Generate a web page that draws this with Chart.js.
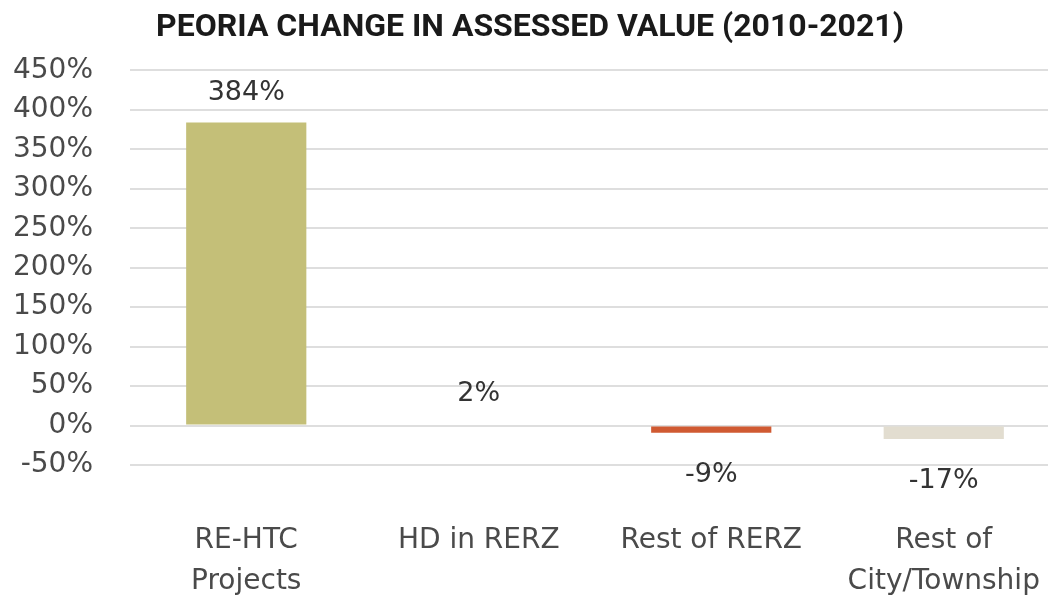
<!DOCTYPE html>
<html>
<head>
<meta charset="utf-8">
<script src="https://cdn.jsdelivr.net/npm/chart.js@4/dist/chart.umd.min.js"></script>
<style>
  html, body { margin: 0; padding: 0; background: #fff; overflow: hidden; }
</style>
</head>
<body>
<canvas id="chart" width="1060" height="597"></canvas>
<script>
// values
const categories = [['RE-HTC', 'Projects'], ['HD in RERZ'], ['Rest of RERZ'], ['Rest of', 'City/Township']];
const changePct = [384, 2, -9, -17];
const barColors = ['#c4bf78', 'rgba(255,255,255,0)', '#d05a32', '#e2ddd0'];
const yTicks = [-50, 0, 50, 100, 150, 200, 250, 300, 350, 400, 450];

// draw the value labels above / below each bar
const valueLabels = {
    id: 'valueLabels',
    afterDatasetsDraw(chart) {
        const ctx = chart.ctx;
        const meta = chart.getDatasetMeta(0);
        ctx.save();
        ctx.font = '27px "DejaVu Sans"';
        ctx.fillStyle = '#333';
        ctx.textAlign = 'center';
        ctx.textBaseline = 'middle';
        meta.data.forEach((bar, i) => {
            const v = changePct[i];
            const y = v >= 0 ? bar.y - 30 : bar.y + 42;
            ctx.fillText(v + '%', bar.x, y);
        });
        ctx.restore();
    }
};

new Chart(document.getElementById('chart'), {
    type: 'bar',
    data: {
        labels: categories,
        datasets: [{
            data: changePct,
            backgroundColor: barColors,
            barPercentage: 0.517,
            categoryPercentage: 1
        }]
    },
    options: {
        responsive: false,
        animation: false,
        layout: { padding: 0 },
        plugins: {
            legend: { display: false },
            tooltip: { enabled: false },
            title: {
                display: true,
                text: 'PEORIA CHANGE IN ASSESSED VALUE (2010-2021)',
                color: '#1a1a1a',
                font: { family: 'Roboto', size: 32, weight: 'bold' },
                padding: { top: 9, bottom: 23 }
            }
        },
        scales: {
            x: {
                grid: { display: false },
                border: { display: false },
                ticks: {
                    color: '#4a4a4a',
                    font: { family: 'DejaVu Sans', size: 28, lineHeight: 1.46 },
                    padding: 47,
                    maxRotation: 0
                },
                afterFit(scale) {
                    scale.height = 132;
                    scale.paddingLeft = 0;
                    scale.paddingRight = 0;
                }
            },
            y: {
                min: -50,
                max: 450,
                afterBuildTicks(scale) { scale.ticks = yTicks.map(v => ({ value: v })); },
                grid: { color: '#dedede', lineWidth: 2, drawTicks: false },
                border: { display: false },
                ticks: {
                    color: '#4a4a4a',
                    font: { family: 'DejaVu Sans', size: 28 },
                    padding: 37,
                    callback: v => v + '%'
                },
                afterFit(scale) { scale.width = 130; }
            }
        }
    },
    plugins: [valueLabels]
});
</script>
</body>
</html>
